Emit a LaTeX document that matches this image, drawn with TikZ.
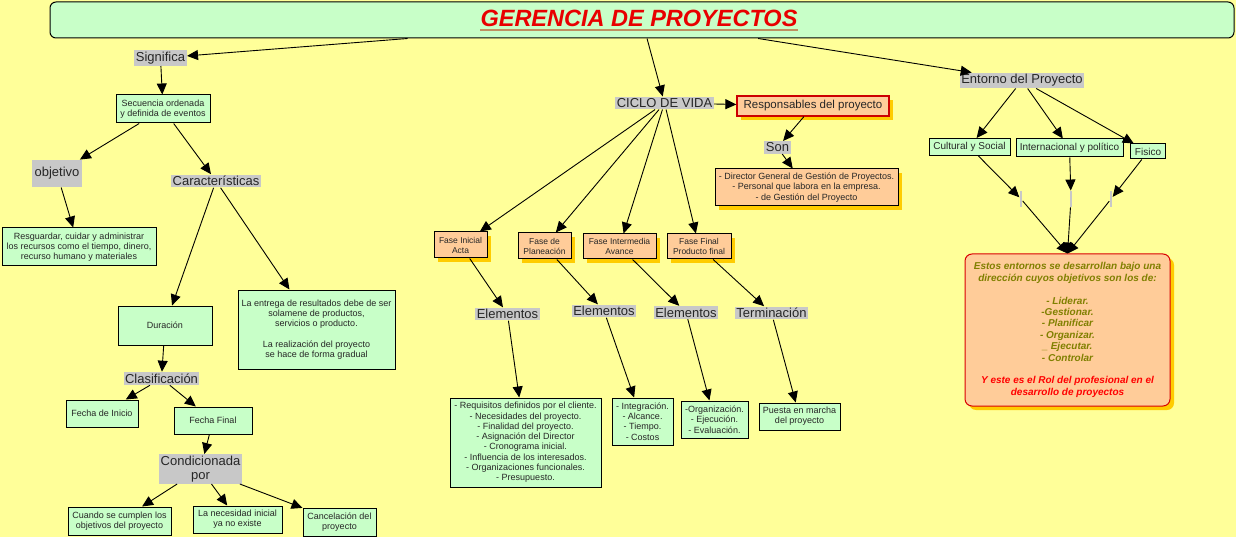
\documentclass[tikz,border=0pt]{standalone}
\usepackage{fontspec}
\setmainfont{Liberation Sans}
\usetikzlibrary{arrows.meta, shadows}
\definecolor{fondo}{HTML}{FFFF99}
\definecolor{verdeCaja}{HTML}{C8FFC8}
\definecolor{naranjaCaja}{HTML}{FFCC99}
\definecolor{sombraOro}{HTML}{FFCC00}
\definecolor{grisFrase}{HTML}{C8C8C8}
\definecolor{rojoTitulo}{HTML}{E80000}
\definecolor{subrayado}{HTML}{C09060}
\definecolor{oliva}{HTML}{808000}

\begin{document}
\begin{tikzpicture}[
    x=1pt, y=-1pt,
    ->, >={Triangle[length=11pt,width=10pt]},
    line width=0.9pt,
    frase/.style={fill=grisFrase, inner sep=1.5pt, text=black!85, font=\fontsize{13}{14}\selectfont},
    verde/.style={draw=black, fill=verdeCaja, line width=1pt, inner sep=1pt, align=center, text=black!85, font=\fontsize{9}{10.3}\selectfont},
    naranja/.style={verde, fill=naranjaCaja, drop shadow={shadow xshift=4pt, shadow yshift=-4pt, fill=sombraOro, opacity=1}},
    barra/.style={fill=grisFrase, minimum width=2.5pt, minimum height=16pt, inner sep=0pt},
    every edge/.style={draw=black}
]
    \fill[fondo] (0,0) rectangle (1236,537);
    \useasboundingbox (0,0) rectangle (1236,537);

    % titulo
    \node[draw=black, fill=verdeCaja, rounded corners=6pt, line width=1pt, minimum width=1184pt, minimum height=36pt] (gerencia) at (642,20) {};
    \node[inner sep=0pt, text=rojoTitulo, font=\bfseries\itshape\fontsize{23.5}{25}\selectfont] (tituloTexto) at (639,18) {GERENCIA DE PROYECTOS};
    \draw[-, subrayado, line width=2.5pt] ([yshift=-3pt]tituloTexto.south west) -- ([yshift=-3pt]tituloTexto.south east);

    % rama izquierda
    \node[frase] (significa) at (160.5,58) {Significa};
    \node[verde, minimum width=94pt, minimum height=28pt] (secuencia) at (163,109) {Secuencia ordenada\\y definida de eventos};
    \node[frase, minimum width=50pt, minimum height=27pt] (objetivo) at (57,173.5) {objetivo};
    \node[frase] (caract) at (216,181) {Características};
    \node[verde, minimum width=154pt, minimum height=38pt] (resguardar) at (79,247) {Resguardar, cuidar y administrar\\los recursos como el tiempo, dinero,\\recurso humano y materiales};
    \node[verde, minimum width=94pt, minimum height=39pt] (duracion) at (165,325.5) {Duración};
    \node[verde, minimum width=157pt, minimum height=79pt] (entrega) at (316.5,329.5) {La entrega de resultados debe de ser\\solamene de productos,\\servicios o producto.\\[10.3pt]La realización del proyecto\\se hace de forma gradual};
    \node[frase] (clasif) at (161.5,378.5) {Clasificación};
    \node[verde, minimum width=72pt, minimum height=27pt] (fInicio) at (102,413.5) {Fecha de Inicio};
    \node[verde, minimum width=78pt, minimum height=27pt] (fFinal) at (213,420.5) {Fecha Final};
    \node[frase, align=center, minimum width=82pt] (condic) at (200.5,469) {Condicionada\\por};
    \node[verde, minimum width=103pt, minimum height=28pt] (cumplen) at (119.5,521) {Cuando se cumplen los\\objetivos del proyecto};
    \node[verde, minimum width=89pt, minimum height=27pt] (necesidad) at (237.5,519.5) {La necesidad inicial\\ya no existe};
    \node[verde, minimum width=73pt, minimum height=28pt] (cancelacion) at (339.5,522) {Cancelación del\\proyecto};

    % ciclo de vida
    \node[frase] (ciclo) at (664.5,103) {CICLO DE VIDA};
    \node[naranja, draw=red!80!black, line width=1.3pt, minimum width=152pt, minimum height=20pt, font=\fontsize{11.5}{13}\selectfont] (responsables) at (813,106) {Responsables del proyecto};
    \node[frase] (son) at (777.5,147.5) {Son};
    \node[naranja, minimum width=183pt, minimum height=37pt] (director) at (806.5,187.5) {- Director General de Gestión de Proyectos.\\- Personal que labora en la empresa.\\- de Gestión del Proyecto};
    \node[naranja, minimum width=53pt, minimum height=26pt, font=\fontsize{8.5}{10}\selectfont] (faseIni) at (460.5,245) {Fase Inicial\\Acta};
    \node[naranja, minimum width=53pt, minimum height=26pt, font=\fontsize{8.5}{10}\selectfont] (fasePlan) at (544.5,246) {Fase de\\Planeación};
    \node[naranja, minimum width=73pt, minimum height=25pt, font=\fontsize{8.5}{10}\selectfont] (faseInt) at (619.5,246.5) {Fase Intermedia\\Avance};
    \node[naranja, minimum width=64pt, minimum height=25pt, font=\fontsize{8.5}{10}\selectfont] (faseFin) at (699,246.5) {Fase Final\\Producto final};
    \node[frase] (elemA) at (507.5,314) {Elementos};
    \node[frase] (elemB) at (604,311) {Elementos};
    \node[frase] (elemC) at (686,312.5) {Elementos};
    \node[frase] (termina) at (771.5,313) {Terminación};
    \node[verde, minimum width=151pt, minimum height=89pt] (listaA) at (525.5,442.5) {- Requisitos definidos por el cliente.\\- Necesidades del proyecto.\\- Finalidad del proyecto.\\- Asignación del Director\\- Cronograma inicial.\\- Influencia de los interesados.\\- Organizaciones funcionales.\\- Presupuesto.};
    \node[verde, minimum width=61pt, minimum height=47pt] (listaB) at (642.5,421.5) {- Integración.\\- Alcance.\\- Tiempo.\\- Costos};
    \node[verde, minimum width=67pt, minimum height=37pt] (listaC) at (714.5,419.5) {-Organización.\\- Ejecución.\\- Evaluación.};
    \node[verde, minimum width=81pt, minimum height=27pt] (puesta) at (799.5,416.5) {Puesta en marcha\\del proyecto};

    % entorno
    \node[frase] (entorno) at (1022,80.5) {Entorno del Proyecto};
    \node[verde, minimum width=81pt, minimum height=17pt, font=\fontsize{10}{11}\selectfont] (cultural) at (969.5,147) {Cultural y Social};
    \node[verde, minimum width=107pt, minimum height=18pt, font=\fontsize{10}{11}\selectfont] (internac) at (1069.5,148) {Internacional y político};
    \node[verde, minimum width=35pt, minimum height=15pt, font=\fontsize{10}{11}\selectfont] (fisico) at (1148,151.5) {Fisico};
    \node[barra] (barraA) at (1021,199) {};
    \node[barra] (barraB) at (1071,199) {};
    \node[barra] (barraC) at (1111,199) {};
    \node[naranja, draw=red!85!black, rounded corners=7pt, minimum width=205pt, minimum height=152pt, text=oliva, font=\bfseries\itshape\fontsize{10}{11.4}\selectfont] (objetivos) at (1067.5,330) {Estos entornos se desarrollan bajo una\\dirección cuyos objetivos son los de:\\[11.4pt]- Liderar.\\-Gestionar.\\- Planificar\\- Organizar.\\\_ Ejecutar.\\- Controlar\\[11.4pt]\textcolor{red}{Y este es el Rol del profesional en el}\\\textcolor{red}{desarrollo de proyectos}};

    \path (gerencia) edge (significa)
          (gerencia) edge (ciclo)
          (gerencia) edge (entorno);

    \path (significa) edge (secuencia)
          (secuencia) edge (objetivo)
          (secuencia) edge (caract)
          (objetivo) edge (resguardar)
          (caract) edge (duracion)
          (caract) edge (entrega)
          (duracion) edge (clasif)
          (clasif) edge (fInicio)
          (clasif) edge (fFinal)
          (fFinal) edge (condic)
          (condic) edge (cumplen)
          (condic) edge (necesidad)
          (condic) edge (cancelacion);

    \path (ciclo) edge (responsables)
          (responsables) edge (son)
          (son) edge (director)
          (ciclo) edge (faseIni)
          (ciclo) edge (fasePlan)
          (ciclo) edge (faseInt)
          (ciclo) edge (faseFin)
          (faseIni) edge (elemA)
          (fasePlan) edge (elemB)
          (faseInt) edge (elemC)
          (faseFin) edge (termina)
          (elemA) edge (listaA)
          (elemB) edge (listaB)
          (elemC) edge (listaC)
          (termina) edge (puesta);

    \path (entorno) edge (cultural)
          (entorno) edge (internac)
          (entorno) edge (fisico)
          (cultural) edge (barraA)
          (internac) edge (barraB)
          (fisico) edge (barraC)
          (barraA) edge (objetivos.north)
          (barraB) edge (objetivos.north)
          (barraC) edge (objetivos.north);
\end{tikzpicture}
\end{document}
